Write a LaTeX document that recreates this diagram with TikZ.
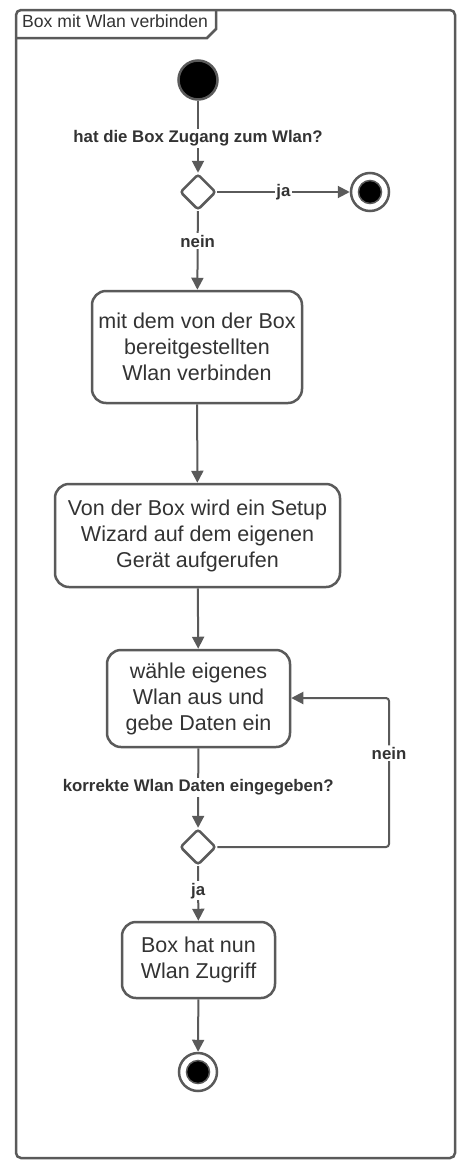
\documentclass[tikz,border=0pt]{standalone}
\usepackage{fontspec}
\setmainfont{Liberation Sans}
\usetikzlibrary{arrows.meta,shapes.geometric,calc}
\definecolor{ln}{HTML}{5A5A5A}
\definecolor{tx}{HTML}{333333}
\begin{document}
\begin{tikzpicture}[x=1pt,y=-1pt,
  actbox/.style={draw=ln,line width=2.5pt,rounded corners=14pt,fill=white,text=tx,align=center,font=\fontsize{21.5}{26}\selectfont,inner sep=0pt},
  dec/.style={draw=ln,line width=2.5pt,diamond,rounded corners=3pt,minimum width=36pt,minimum height=36pt,inner sep=0pt,fill=white},
  conn/.style={draw=ln,line width=2pt,-{Triangle[length=12pt,width=12pt]}},
  lbl/.style={fill=white,text=tx,font=\fontsize{16.8}{18}\selectfont\bfseries,inner sep=1.5pt}]
\useasboundingbox (0,0) rectangle (471,1173);
% frame
\draw[ln,line width=2.5pt,rounded corners=5pt] (16,10) rectangle (455,1158);
\draw[ln,line width=2.5pt] (216,10) -- (216,29) -- (207,38) -- (16,38);
\node[text=tx,font=\fontsize{17.6}{19}\selectfont,anchor=west,inner sep=0pt] (title) at (22,21.5) {Box mit Wlan verbinden};
% nodes
\node[circle,draw=ln,line width=2.5pt,fill=black,minimum size=39pt,inner sep=0pt] (start) at (198,80) {};
\node[dec] (d1) at (198,192) {};
\node[circle,draw=ln,line width=2.5pt,fill=white,minimum size=38pt,inner sep=0pt] (f1) at (370,192) {};
\node[circle,draw=ln,line width=1.5pt,fill=black,minimum size=23pt,inner sep=0pt] (f1i) at (370,192) {};
\node[actbox,minimum width=210pt,minimum height=112pt] (b1) at (197,347) {mit dem von der Box\\bereitgestellten\\Wlan verbinden};
\node[actbox,minimum width=285pt,minimum height=103pt] (b2) at (197.5,535.5) {Von der Box wird ein Setup\\Wizard auf dem eigenen\\Gerät aufgerufen};
\node[actbox,minimum width=183pt,minimum height=97pt] (b3) at (198.5,698.5) {wähle eigenes\\Wlan aus und\\gebe Daten ein};
\node[dec] (d2) at (198,847) {};
\node[actbox,minimum width=153pt,minimum height=76pt] (b4) at (198.5,960) {Box hat nun\\Wlan Zugriff};
\node[circle,draw=ln,line width=2.5pt,fill=white,minimum size=38pt,inner sep=0pt] (f2) at (198,1072) {};
\node[circle,draw=ln,line width=1.5pt,fill=black,minimum size=23pt,inner sep=0pt] (f2i) at (198,1072) {};
\coordinate (lp) at (389,847);
\coordinate (lq) at (389,698);
% connectors
\draw[conn] (start) -- node[lbl,pos=0.52] {hat die Box Zugang zum Wlan?} (d1);
\draw[conn] (d1) -- node[lbl,pos=0.5] {ja} (f1);
\draw[conn] (d1) -- node[lbl,pos=0.38] {nein} (b1);
\draw[conn] (b1) -- (b2);
\draw[conn] (b2) -- (b3);
\draw[conn] (b3) -- node[lbl,pos=0.49] {korrekte Wlan Daten eingegeben?} (d2);
\draw[conn,rounded corners=3pt] (d2) -- (lp) -- node[lbl,pos=0.63] {nein} (lq) -- (b3.east |- lq);
\draw[conn] (d2) -- node[lbl,pos=0.45] {ja} (b4);
\draw[conn] (b4) -- (f2);
\end{tikzpicture}
\end{document}
